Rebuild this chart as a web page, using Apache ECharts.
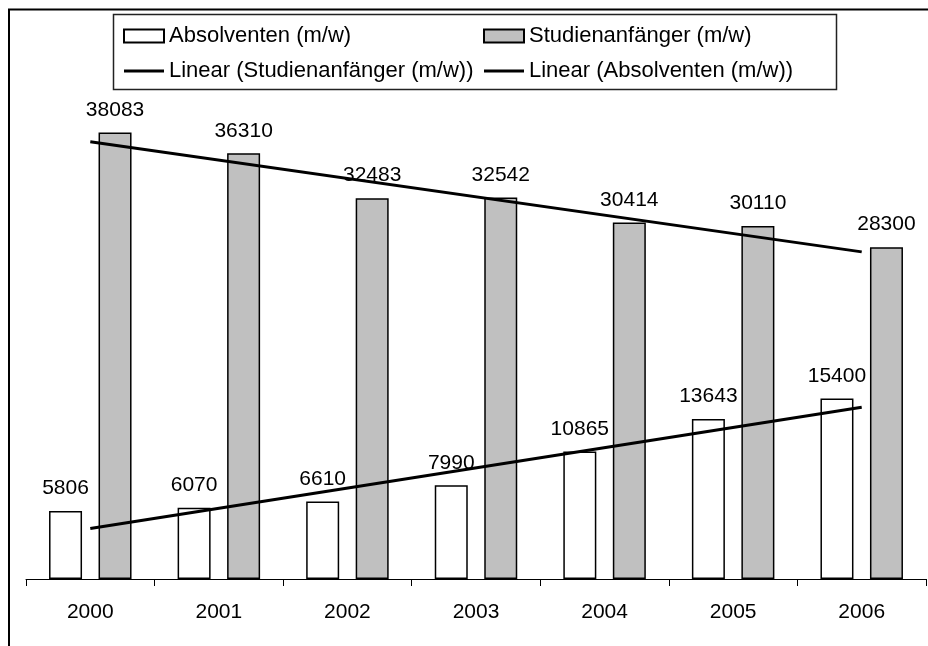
<!DOCTYPE html>
<html>
<head>
<meta charset="utf-8">
<script src="https://cdn.jsdelivr.net/npm/echarts@6/dist/echarts.min.js"></script>
<style>
html,body{margin:0;padding:0;background:#fff;}
#chart{width:928px;height:646px;}
</style>
</head>
<body>
<div id="chart"></div>
<script>
// Data
const years = ['2000', '2001', '2002', '2003', '2004', '2005', '2006'];
const absolventen = [5806, 6070, 6610, 7990, 10865, 13643, 15400];
const studienanfaenger = [38083, 36310, 32483, 32542, 30414, 30110, 28300];
// Trend line end points (first and last year)
const trendStudienanfaenger = [37300, null, null, null, null, null, 27900];
const trendAbsolventen = [4300, null, null, null, null, null, 14650];

const names = {
  abs: 'Absolventen (m/w)',
  stud: 'Studienanfänger (m/w)',
  linStud: 'Linear (Studienanfänger (m/w))',
  linAbs: 'Linear (Absolventen (m/w))'
};

const FONT = 'Liberation Sans, Arial, sans-serif';
const LINE_ICON = 'path://M0,0L40,0L40,3L0,3Z';
const chart = echarts.init(document.getElementById('chart'), null, {renderer: 'canvas'});

const labelCfg = {
  show: true,
  position: 'top',
  distance: 12,
  color: '#000',
  fontFamily: FONT,
  fontSize: 21
};

const legendText = {fontFamily: FONT, fontSize: 22, color: '#000'};

chart.setOption({
  animation: false,
  backgroundColor: '#fff',
  textStyle: {fontFamily: FONT},
  graphic: [
    {type: 'rect', shape: {x: 9, y: 9.5, width: 940, height: 660},
     style: {fill: 'none', stroke: '#000', lineWidth: 2}, z: 100},
    {type: 'rect', shape: {x: 113.5, y: 14.5, width: 723, height: 75},
     style: {fill: 'none', stroke: '#222', lineWidth: 1.5}, z: 100}
  ],
  legend: [
    {
      orient: 'vertical', left: 123, top: 25, itemGap: 13, padding: 0,
      itemWidth: 40, itemHeight: 13,
      textStyle: legendText,
      data: [
        {name: names.abs, icon: 'rect'},
        {name: names.linStud, icon: LINE_ICON}
      ]
    },
    {
      orient: 'vertical', left: 483, top: 25, itemGap: 13, padding: 0,
      itemWidth: 40, itemHeight: 13,
      textStyle: legendText,
      data: [
        {name: names.stud, icon: 'rect'},
        {name: names.linAbs, icon: LINE_ICON}
      ]
    }
  ],
  grid: {left: 26, right: 2, top: 110, bottom: 67, containLabel: false},
  xAxis: {
    type: 'category',
    data: years,
    boundaryGap: true,
    axisLine: {lineStyle: {color: '#000', width: 1}},
    axisTick: {show: true, length: 7, lineStyle: {color: '#000'}},
    axisLabel: {color: '#000', fontFamily: FONT, fontSize: 21, margin: 23}
  },
  yAxis: {
    type: 'value', min: 0, max: 40000,
    show: false,
    splitLine: {show: false}
  },
  series: [
    {
      name: names.abs, type: 'bar', data: absolventen,
      barWidth: 33, barGap: '50%',
      itemStyle: {color: '#ffffff', borderColor: '#000', borderWidth: 1.5},
      label: labelCfg, z: 2
    },
    {
      name: names.stud, type: 'bar', data: studienanfaenger,
      barWidth: 33, barGap: '50%',
      itemStyle: {color: '#c0c0c0', borderColor: '#000', borderWidth: 1.5},
      label: labelCfg, z: 2
    },
    {
      name: names.linStud, type: 'line', data: trendStudienanfaenger,
      connectNulls: true, symbol: 'none',
      lineStyle: {color: '#000', width: 3}, itemStyle: {color: '#000'}, z: 3
    },
    {
      name: names.linAbs, type: 'line', data: trendAbsolventen,
      connectNulls: true, symbol: 'none',
      lineStyle: {color: '#000', width: 3}, itemStyle: {color: '#000'}, z: 3
    }
  ]
});
</script>
</body>
</html>
